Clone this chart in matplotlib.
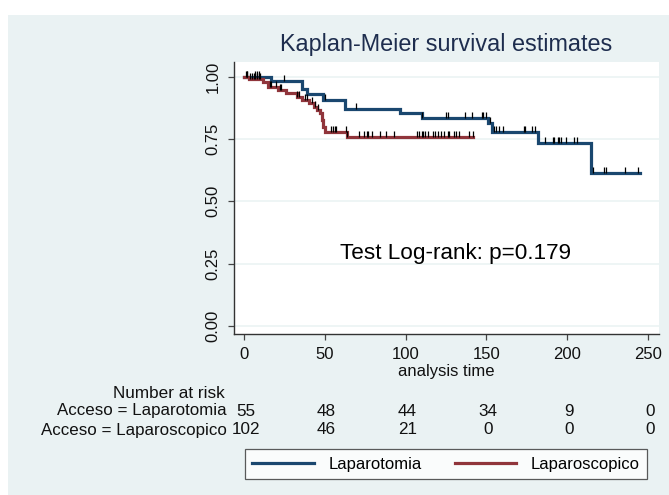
import numpy as np
import matplotlib
matplotlib.use("Agg")
import matplotlib.pyplot as plt
from matplotlib.patches import Rectangle

plt.rcParams["font.family"] = ["Liberation Sans", "DejaVu Sans"]

# Kaplan-Meier step estimates (time at which each step starts, survival after it)
lapt_times = [0, 17, 36, 39, 49, 62.5, 96.5, 110, 151, 153.5, 182, 214.5]
lapt_surv = [1.0, 0.982, 0.950, 0.930, 0.907, 0.872, 0.853, 0.834, 0.814, 0.780, 0.736, 0.613]
lapt_end = 245

lapc_times = [0, 3, 12, 15, 21, 26, 33, 36, 40, 43, 45, 47, 48, 49, 50, 64]
lapc_surv = [1.0, 0.990, 0.980, 0.960, 0.946, 0.933, 0.920, 0.907, 0.894, 0.880,
             0.867, 0.853, 0.826, 0.800, 0.780, 0.758]
lapc_end = 142

# censored observations
lapt_cens = [2, 7, 8, 9, 25, 50, 69, 110, 125, 126, 137, 141, 147, 148, 150, 152,
             155, 156, 158, 160, 173, 174, 178, 180, 186, 191, 192, 194, 195, 196,
             199, 204, 206, 216, 223, 224, 236, 244]
lapc_cens = [1, 2, 4, 5, 6, 7, 8, 9, 10, 16, 17, 20, 22, 23, 33, 34, 38, 39, 42,
             44, 46, 54, 55, 56, 57, 63, 64, 71, 74, 76, 77, 79, 84, 88, 93, 107,
             108, 110, 111, 112, 114, 117, 118, 120, 122, 124, 126, 127, 130, 131,
             133, 139, 142]

# number-at-risk table
risk_times = [0, 50, 100, 150, 200, 250]
risk_lapt = [55, 48, 44, 34, 9, 0]
risk_lapc = [102, 46, 21, 0, 0, 0]

group_names = ["Laparotomia", "Laparoscopico"]
row_labels = ["Acceso = Laparotomia", "Acceso = Laparoscopico"]
colors = ["#1a476f", "#90353b"]
bg = "#eaf2f3"

W, H = 669, 495
fig = plt.figure(figsize=(W / 100, H / 100), dpi=100)
fig.patch.set_facecolor("white")
fig.patches.append(Rectangle((8 / W, 0), 1 - 8 / W, 1 - 15 / H,
                             transform=fig.transFigure, facecolor=bg,
                             edgecolor="none", zorder=-10))

ax = fig.add_axes([234 / W, 1 - 334 / H, (659 - 234) / W, (334 - 62) / H])
ax.set_facecolor("white")
ax.set_xlim(-6.2, 256.8)
ax.set_ylim(-0.032, 1.059)

yt = [0, 0.25, 0.5, 0.75, 1.0]
for v in yt:
    ax.axhline(v, color=bg, lw=1.1, zorder=1)


def step_curve(times, surv, end):
    x = list(times) + [end]
    y = list(surv) + [surv[-1]]
    return x, y


def surv_at(times, surv, t):
    idx = np.searchsorted(np.asarray(times), np.asarray(t), side="right") - 1
    return np.asarray(surv)[idx]


handles = []
for times, surv, end, cens, col, name in [
        (lapt_times, lapt_surv, lapt_end, lapt_cens, colors[0], group_names[0]),
        (lapc_times, lapc_surv, lapc_end, lapc_cens, colors[1], group_names[1])]:
    x, y = step_curve(times, surv, end)
    h, = ax.plot(x, y, drawstyle="steps-post", color=col, lw=2.3,
                 solid_joinstyle="miter", zorder=3, label=name)
    handles.append(h)
    ax.plot(cens, surv_at(times, surv, cens), linestyle="none", marker=2,
            ms=4.5, mew=0.9, color="black", zorder=4)

for s in ["top", "right"]:
    ax.spines[s].set_visible(False)
for s in ["left", "bottom"]:
    ax.spines[s].set_color("#333333")
    ax.spines[s].set_linewidth(1.0)

ax.set_xticks(risk_times)
ax.set_yticks(yt)
ax.set_yticklabels([f"{v:.2f}" for v in yt], rotation=90, va="center")
ax.tick_params(axis="both", direction="out", length=4.5, width=0.9,
               color="#444444", labelsize=12, labelcolor="#111111")
ax.tick_params(axis="x", pad=5)
ax.tick_params(axis="y", pad=5)
ax.set_xlabel("analysis time", fontsize=12, color="#111111", labelpad=1)

fig.text(446 / W, 1 - 45 / H, "Kaplan-Meier survival estimates", ha="center",
         va="center", fontsize=16.8, color="#1e2d4e")

ax.text(130.6, 0.269, "Test Log-rank: p=0.179", ha="center", va="baseline",
        fontsize=16.2, color="black")

# number at risk
fig.text(225 / W, 1 - 393 / H, "Number at risk", ha="right", va="center",
         fontsize=12.3, color="#111111")
for r, (lab, vals) in enumerate(zip(row_labels, [risk_lapt, risk_lapc])):
    ypx = 411 + r * 19
    fig.text(227 / W, 1 - ypx / H, lab, ha="right", va="center",
             fontsize=12.2, color="#111111")
    for t, v in zip(risk_times, vals):
        ax.annotate(str(v), xy=(t + 1.0, 1 - ypx / H),
                    xycoords=("data", "figure fraction"), ha="center",
                    va="center", fontsize=12.3, color="#111111",
                    annotation_clip=False)

leg = fig.legend(handles=handles, loc="center",
                 bbox_to_anchor=(446 / W, 1 - 464 / H), ncol=2, fontsize=12,
                 frameon=True, fancybox=False, handlelength=3.7,
                 handletextpad=0.85, columnspacing=2.0, borderpad=0.45)
leg.get_frame().set_edgecolor("#333333")
leg.get_frame().set_linewidth(0.9)
for lh in leg.get_lines():
    lh.set_linewidth(2.3)

fig.savefig("out.png", dpi=100, facecolor=fig.get_facecolor())
